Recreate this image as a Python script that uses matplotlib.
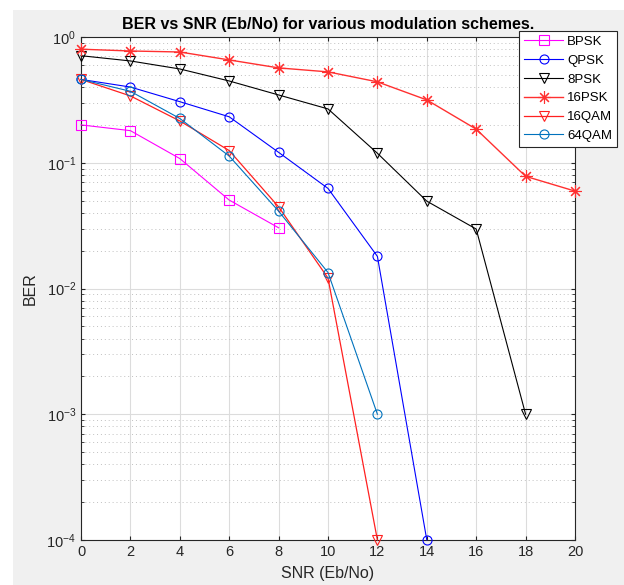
import matplotlib as mpl
import matplotlib.pyplot as plt
import numpy as np
from matplotlib.patches import Rectangle

mpl.rcParams['font.family'] = ['Liberation Sans', 'DejaVu Sans']
mpl.rcParams['mathtext.fontset'] = 'custom'
mpl.rcParams['mathtext.rm'] = 'Liberation Sans'
mpl.rcParams['mathtext.it'] = 'Liberation Sans'

# BER values
snr = [0, 2, 4, 6, 8, 10, 12, 14, 16, 18, 20]
ber_bpsk = [0.2, 0.18, 0.108, 0.0505, 0.0304]
ber_qpsk = [0.46, 0.40, 0.306, 0.232, 0.121, 0.0625, 0.018, 1e-4]
ber_8psk = [0.71, 0.645, 0.557, 0.447, 0.346, 0.268, 0.119, 0.0495, 0.0297, 0.001]
ber_16psk = [0.80, 0.774, 0.76, 0.657, 0.568, 0.528, 0.44, 0.316, 0.185, 0.078, 0.0595]
ber_16qam = [0.46, 0.34, 0.215, 0.125, 0.0446, 0.0121, 1e-4]
ber_64qam = [0.46, 0.37, 0.225, 0.113, 0.0412, 0.0134, 0.001]

asterisk = (8, 2, 0)
series = [
    ('BPSK', ber_bpsk, '#ff00ff', 's', 0.8),
    ('QPSK', ber_qpsk, '#0000ff', 'o', 0.8),
    ('8PSK', ber_8psk, '#000000', 'v', 0.8),
    ('16PSK', ber_16psk, '#ff3030', asterisk, 1.0),
    ('16QAM', ber_16qam, '#ff2020', 'v', 0.9),
    ('64QAM', ber_64qam, '#0072bd', 'o', 0.8),
]

fig = plt.figure(figsize=(6.24, 5.85), dpi=100)
fig.patch.set_facecolor('white')
fig.patches.append(Rectangle((13 / 624, 0), 1, 1 - 10 / 585, transform=fig.transFigure,
                             facecolor='#f0f0f0', edgecolor='none', zorder=-10))

ax = fig.add_axes([81 / 624, 45 / 585, 494 / 624, 503 / 585])
ax.set_facecolor('white')

for name, vals, col, mk, lw in series:
    x = snr[:len(vals)]
    ms = 9 if mk == asterisk else 6.5
    ax.semilogy(x, vals, color=col, marker=mk, markersize=ms, markerfacecolor='none',
                markeredgecolor=col, markeredgewidth=0.8, linewidth=lw, label=name,
                clip_on=False, zorder=3)

ax.set_xlim(0, 20)
ax.set_ylim(1e-4, 1)
ax.set_xticks(np.arange(0, 21, 2))
ax.grid(True, which='major', color='#dcdcdc', linewidth=0.8, linestyle='-')
ax.grid(True, which='minor', axis='y', color='#c0c0c0', linewidth=0.7, linestyle=(0, (1, 3)))
ax.tick_params(which='both', direction='in', top=True, right=True, colors='#262626',
               labelsize=10.5, length=3)
ax.tick_params(which='minor', length=2)
ax.set_axisbelow(True)
for sp in ax.spines.values():
    sp.set_color('#262626')
    sp.set_linewidth(0.8)

ax.set_title('BER vs SNR (Eb/No) for various modulation schemes.', fontsize=11.5,
             fontweight='bold', pad=6)
ax.set_xlabel('SNR (Eb/No)', fontsize=11.5, color='#262626', labelpad=5)
ax.set_ylabel('BER', fontsize=11.5, color='#262626', labelpad=6)

leg = fig.legend(loc='upper right', bbox_to_anchor=(617 / 624, 1 - 31 / 585),
                 fontsize=9.5, frameon=True, fancybox=False, edgecolor='#262626',
                 framealpha=1, borderpad=0.35, labelspacing=0.5, handlelength=3.0,
                 handletextpad=0.3, borderaxespad=0)
leg.get_frame().set_linewidth(0.8)

fig.savefig('out.png', dpi=100, facecolor=fig.get_facecolor())
